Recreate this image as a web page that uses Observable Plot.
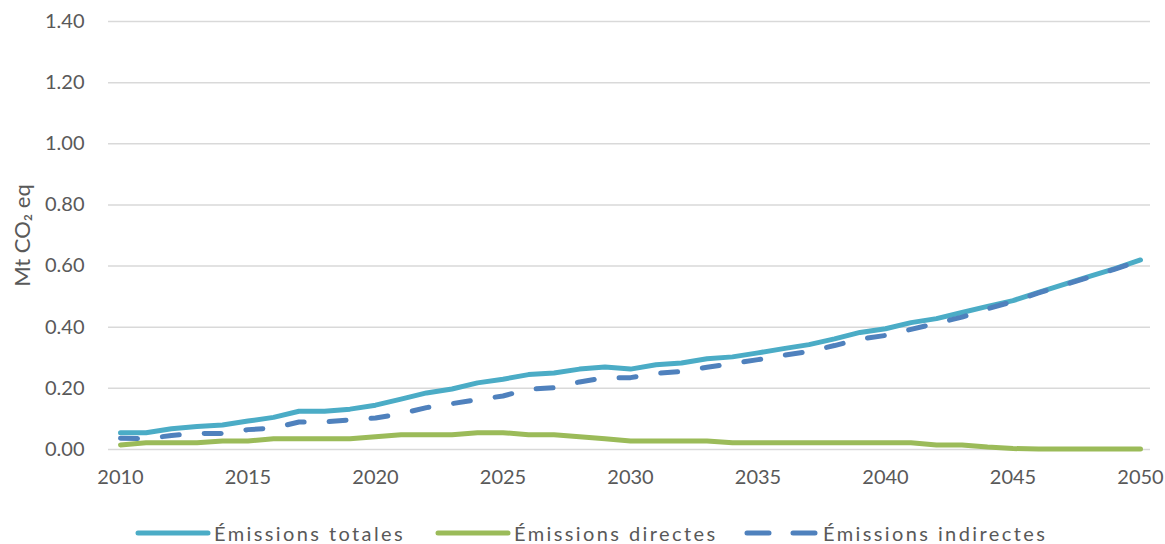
<!DOCTYPE html>
<html>
<head>
<meta charset="utf-8">
<script src="https://cdn.jsdelivr.net/npm/d3@7"></script>
<script src="https://cdn.jsdelivr.net/npm/@observablehq/plot@0.6"></script>
<style>
  html, body { margin: 0; padding: 0; background: #fff; }
  #chart { width: 1165px; font-family: Lato, "Open Sans", sans-serif; }
  .legend { position: relative; height: 44px; font-size: 20px; color: #595959; letter-spacing: 2.4px; }
  .legend .item { position: absolute; top: 20px; display: flex; align-items: center; height: 26px; }
  .legend svg { margin-right: 3px; }
</style>
</head>
<body>
<div id="chart"></div>
<script>
const years = d3.range(2010, 2051);
const totales = [0.055,0.055,0.068,0.075,0.080,0.093,0.105,0.125,0.125,0.132,0.145,0.165,0.185,0.198,0.218,0.230,0.245,0.250,0.263,0.270,0.263,0.277,0.283,0.297,0.303,0.316,0.330,0.343,0.362,0.383,0.395,0.415,0.428,0.448,0.468,0.487,0.514,0.540,0.566,0.592,0.620];
const directes = [0.015,0.022,0.022,0.022,0.028,0.028,0.035,0.035,0.035,0.035,0.042,0.048,0.048,0.048,0.055,0.055,0.048,0.048,0.042,0.035,0.028,0.028,0.028,0.028,0.022,0.022,0.022,0.022,0.022,0.022,0.022,0.022,0.015,0.015,0.008,0.003,0.002,0.002,0.002,0.002,0.002];
const indirectes = [0.037,0.035,0.046,0.053,0.052,0.065,0.070,0.090,0.090,0.097,0.103,0.117,0.137,0.150,0.163,0.175,0.197,0.202,0.221,0.235,0.235,0.249,0.255,0.269,0.281,0.294,0.308,0.321,0.340,0.361,0.373,0.393,0.413,0.433,0.460,0.484,0.512,0.538,0.564,0.590,0.618];
const seriesNames = ["Émissions totales", "Émissions directes", "Émissions indirectes"];
const seriesColors = ["#4BACC6", "#9BBB59", "#4F81BD"];
const yTicks = [0, 0.2, 0.4, 0.6, 0.8, 1.0, 1.2, 1.4];
const xTicks = [2010, 2015, 2020, 2025, 2030, 2035, 2040, 2045, 2050];

const rows = (vals) => years.map((y, i) => ({year: y, value: vals[i]}));

const plot = Plot.plot({
  width: 1165,
  height: 500,
  marginLeft: 108,
  marginRight: 15,
  marginTop: 21,
  marginBottom: 51,
  style: { fontFamily: "Lato, 'Open Sans', sans-serif", fontSize: "20px", color: "#595959", background: "#fff" },
  x: { domain: [2010 - 12/25.5, 2050 + 10/25.5] },
  y: { domain: [0, 1.4] },
  marks: [
    Plot.ruleY(yTicks, { stroke: "#d9d9d9", strokeWidth: 1.5 }),
    Plot.axisY({ ticks: yTicks, tickFormat: d => d.toFixed(2), tickSize: 0, tickPadding: 24, label: null, fontSize: 20 }),
    Plot.axisX({ ticks: xTicks, tickFormat: d => String(d), tickSize: 0, tickPadding: 20, label: null, fontSize: 20 }),
    Plot.text(["Mt CO₂ eq"], { frameAnchor: "left", textAnchor: "middle", dx: -86, rotate: -90, fontSize: 22, fill: "#595959", letterSpacing: 1 }),
    Plot.line(rows(totales), { x: "year", y: "value", stroke: seriesColors[0], strokeWidth: 5, strokeLinejoin: "round", strokeLinecap: "round" }),
    Plot.line(rows(directes), { x: "year", y: "value", stroke: seriesColors[1], strokeWidth: 5, strokeLinejoin: "round", strokeLinecap: "round" }),
    Plot.line(rows(indirectes), { x: "year", y: "value", stroke: seriesColors[2], strokeWidth: 5, strokeLinejoin: "round", strokeLinecap: "round", strokeDasharray: "17,25" })
  ]
});

const chart = document.getElementById("chart");
chart.appendChild(plot);

const legendX = [135, 435, 744];
const legend = document.createElement("div");
legend.className = "legend";
seriesNames.forEach((name, i) => {
  const item = document.createElement("div");
  item.className = "item";
  item.style.left = legendX[i] + "px";
  item.innerHTML = `<svg width="76" height="10"><line x1="3" y1="5" x2="73" y2="5" stroke="${seriesColors[i]}" stroke-width="5" stroke-linecap="round" ${i===2 ? 'stroke-dasharray="22,24"' : ''}/></svg><span>${name}</span>`;
  legend.appendChild(item);
});
chart.appendChild(legend);
</script>
</body>
</html>
